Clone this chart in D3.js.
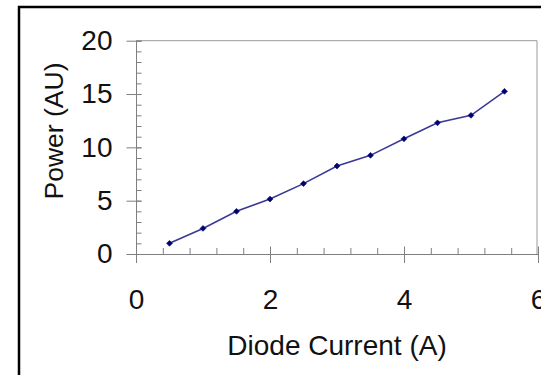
<!DOCTYPE html>
<html>
<head>
<meta charset="utf-8">
<script src="https://cdn.jsdelivr.net/npm/d3@7"></script>
<style>
  html, body { margin: 0; padding: 0; background: #fff; }
  svg { display: block; }
  text { font-family: "Liberation Sans", Arial, sans-serif; fill: #111; }
</style>
</head>
<body>
<svg id="chart" width="541" height="375"></svg>
<script>
// Data
const current = [0.5, 1.0, 1.5, 2.0, 2.5, 3.0, 3.5, 4.0, 4.5, 5.0, 5.5];
const power   = [1.0, 2.4, 4.0, 5.15, 6.6, 8.25, 9.25, 10.8, 12.3, 13.0, 15.25];
const xTicks = [0, 2, 4, 6];
const yTicks = [0, 5, 10, 15, 20];
const xMinorTicks = d3.range(0, 6.0001, 0.4);
const yMinorTicks = d3.range(0, 20.0001, 1);
const xTitle = "Diode Current (A)";
const yTitle = "Power (AU)";

const svg = d3.select("#chart");
const mLeft = 136, mRight = 538, mTop = 40.7, mBottom = 254;

const x = d3.scaleLinear().domain([0, 6]).range([mLeft, mRight]);
const y = d3.scaleLinear().domain([0, 20]).range([mBottom, mTop]);

// outer frame
svg.append("rect").attr("x", 19).attr("y", 7).attr("width", 700).attr("height", 600)
  .attr("fill", "none").attr("stroke", "#000").attr("stroke-width", 2.5);

// plot area border (top & right)
svg.append("path")
  .attr("d", `M${mLeft},${mTop}H${mRight - 1}V${mBottom}`)
  .attr("fill", "none").attr("stroke", "#9a9a9a").attr("stroke-width", 1);

const axisColor = "#7f7f7f";

// Y minor ticks (inside)
const gyMinor = svg.append("g").attr("transform", `translate(${mLeft},0)`)
  .call(d3.axisRight(y).tickValues(yMinorTicks).tickSize(5.5).tickFormat(""));
gyMinor.select(".domain").remove();
gyMinor.selectAll("line").attr("stroke", axisColor);

// Y major ticks (cross)
const gy = svg.append("g").attr("transform", `translate(${mLeft},0)`)
  .call(d3.axisLeft(y).tickValues(yTicks).tickSizeInner(9.5).tickSizeOuter(0).tickPadding(14).tickFormat(d3.format("d")));
gy.select(".domain").attr("stroke", axisColor);
gy.selectAll(".tick line").attr("stroke", axisColor).attr("x2", 5.5).attr("x1", -9.5);
gy.selectAll("text").attr("font-size", 28).attr("font-family", "Liberation Sans, Arial, sans-serif").attr("fill", "#111");

// X minor ticks (inside)
const gxMinor = svg.append("g").attr("transform", `translate(0,${mBottom})`)
  .call(d3.axisTop(x).tickValues(xMinorTicks).tickSize(6).tickFormat(""));
gxMinor.select(".domain").remove();
gxMinor.selectAll("line").attr("stroke", axisColor);

// X major ticks (cross)
const gx = svg.append("g").attr("transform", `translate(0,${mBottom})`)
  .call(d3.axisBottom(x).tickValues(xTicks).tickSizeInner(9).tickSizeOuter(0).tickPadding(26).tickFormat(d3.format("d")));
gx.select(".domain").attr("stroke", axisColor);
gx.selectAll(".tick line").attr("stroke", axisColor).attr("y1", -7.5).attr("y2", 9);
gx.selectAll("text").attr("font-size", 28).attr("font-family", "Liberation Sans, Arial, sans-serif").attr("fill", "#111");

// Axis titles
svg.append("text").attr("x", (mLeft + mRight) / 2).attr("y", 355)
  .attr("text-anchor", "middle").attr("font-size", 28).text(xTitle);
svg.append("text").attr("transform", `translate(63,131) rotate(-90)`)
  .attr("text-anchor", "middle").attr("font-size", 26.5).text(yTitle);

// Line
const pts = current.map((c, i) => [c, power[i]]);
svg.append("path").datum(pts)
  .attr("fill", "none").attr("stroke", "#3a3a96").attr("stroke-width", 1.6)
  .attr("d", d3.line().x(d => x(d[0])).y(d => y(d[1])));

// Markers (diamonds)
svg.selectAll(".pt").data(pts).enter().append("path")
  .attr("class", "pt")
  .attr("transform", d => `translate(${x(d[0])},${y(d[1])})`)
  .attr("d", d3.symbol().type(d3.symbolDiamond2).size(22))
  .attr("fill", "#000070").attr("stroke", "#000070").attr("stroke-width", 0.6);
</script>
</body>
</html>
